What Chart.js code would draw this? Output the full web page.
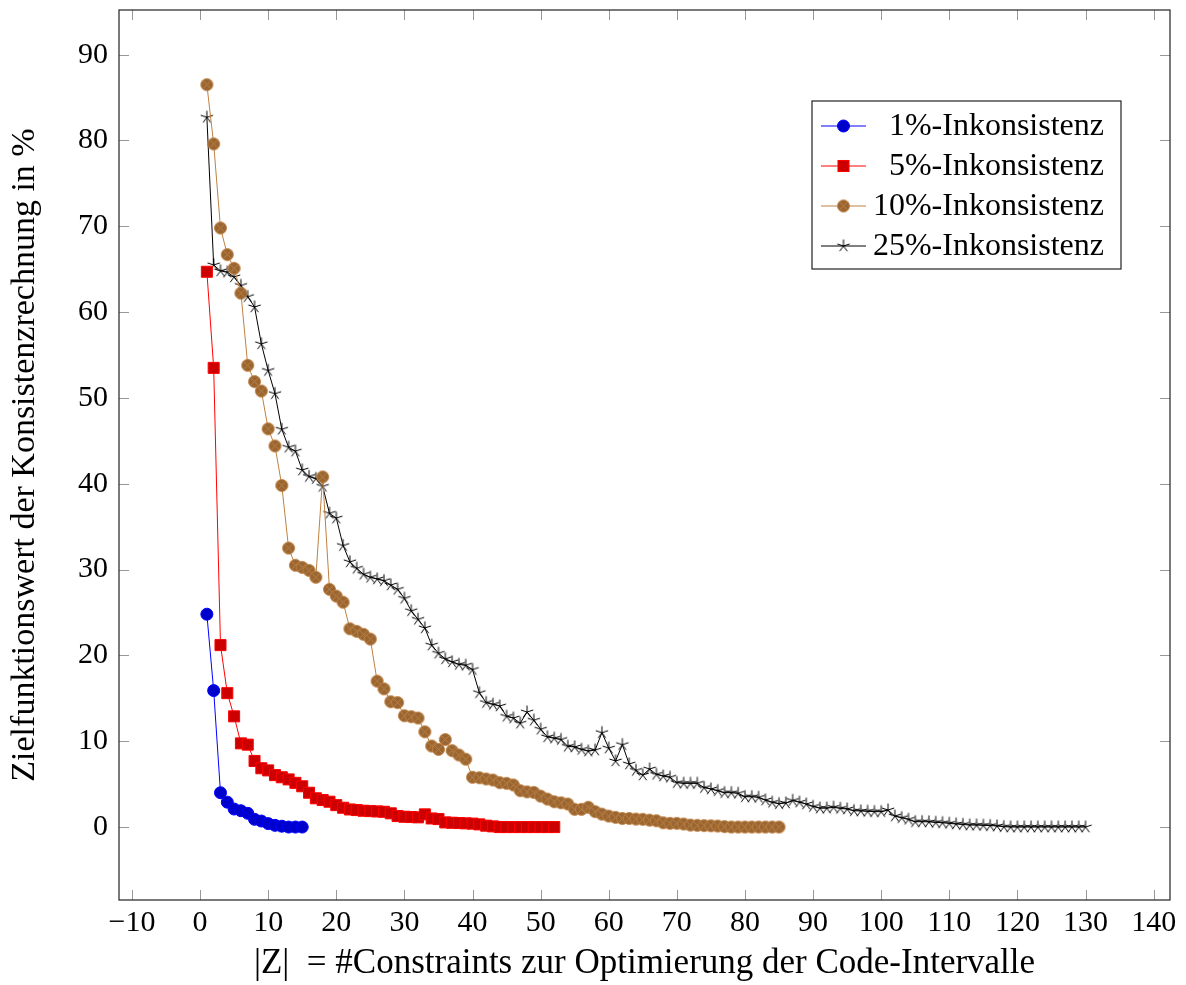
<!DOCTYPE html>
<html>
<head>
<meta charset="utf-8">
<script src="https://cdn.jsdelivr.net/npm/chart.js@4.4.0/dist/chart.umd.min.js"></script>
<style>
  html, body { margin: 0; padding: 0; background: #fff; }
</style>
</head>
<body>
<canvas id="grafico" width="1186" height="985"></canvas>
<script>
// 🔹 Dados (x = 1, 2, 3, ... em cada série)
const serie1 = [24.8, 15.9, 4.0, 2.9, 2.1, 1.9, 1.6, 0.9, 0.7, 0.4, 0.2, 0.1, 0.0, 0.0, 0.0];

const serie5 = [64.7, 53.5, 21.2, 15.6, 12.9, 9.75, 9.6, 7.7, 6.85, 6.6,
  6.05, 5.8, 5.55, 5.15, 4.75, 4.0, 3.35, 3.15, 2.95, 2.55,
  2.25, 2.05, 1.98, 1.9, 1.86, 1.82, 1.78, 1.6, 1.28, 1.2,
  1.17, 1.13, 1.48, 1.0, 0.93, 0.54, 0.5, 0.47, 0.43, 0.4,
  0.31, 0.16, 0.08, 0, 0, 0, 0, 0, 0, 0,
  0, 0];

const serie10 = [86.5, 79.6, 69.8, 66.7, 65.1, 62.2, 53.8, 51.9, 50.8, 46.4,
  44.4, 39.8, 32.5, 30.5, 30.25, 29.9, 29.1, 40.8, 27.7, 26.9,
  26.2, 23.1, 22.8, 22.45, 21.9, 17.0, 16.1, 14.6, 14.5, 12.97,
  12.86, 12.7, 11.1, 9.44, 9.05, 10.2, 8.9, 8.4, 7.9, 5.8,
  5.75, 5.6, 5.48, 5.17, 5.09, 4.9, 4.24, 4.1, 4.04, 3.6,
  3.26, 2.95, 2.83, 2.68, 2.06, 2.06, 2.3, 1.8, 1.5, 1.28,
  1.13, 1.0, 1.0, 0.93, 0.9, 0.8, 0.74, 0.5, 0.43, 0.43,
  0.35, 0.23, 0.2, 0.17, 0.15, 0.12, 0.05, 0, 0, 0,
  0, 0, 0, 0, 0];

const serie25 = [82.7, 65.5, 64.8, 64.65, 64.1, 63.1, 61.8, 60.6, 56.3, 53.2,
  50.5, 46.35, 44.25, 43.8, 41.6, 40.85, 40.6, 39.7, 36.55, 36.0,
  32.8, 30.9, 30.15, 29.45, 29.1, 28.9, 28.7, 28.2, 27.7, 26.65,
  25.2, 24.2, 23.2, 21.2, 20.25, 19.6, 19.25, 18.95, 18.85, 18.35,
  15.65, 14.5, 14.3, 14.1, 12.9, 12.7, 12.1, 13.4, 12.45, 11.4,
  10.5, 10.35, 10.2, 9.4, 9.33, 9.05, 8.85, 8.97, 11.0, 9.2,
  7.7, 9.6, 7.34, 6.6, 6.06, 6.76, 6.14, 5.94, 5.8, 5.17,
  5.09, 5.09, 5.09, 4.6, 4.43, 4.24, 4.0, 4.0, 3.93, 3.53,
  3.53, 3.46, 3.15, 2.88, 2.72, 2.8, 3.1, 2.9, 2.68, 2.4,
  2.2, 2.2, 2.3, 2.18, 2.1, 1.9, 1.87, 1.83, 1.79, 1.79,
  1.98, 1.28, 1.09, 0.9, 0.62, 0.62, 0.6, 0.54, 0.5, 0.43,
  0.35, 0.3, 0.23, 0.23, 0.2, 0.17, 0.12, 0.04, 0, 0,
  0, 0, 0, 0, 0, 0, 0, 0, 0, 0];

const legendas = ['1%-Inkonsistenz', '5%-Inkonsistenz', '10%-Inkonsistenz', '25%-Inkonsistenz'];
const ticksX = [-10, 0, 10, 20, 30, 40, 50, 60, 70, 80, 90, 100, 110, 120, 130, 140];
const ticksY = [0, 10, 20, 30, 40, 50, 60, 70, 80, 90];

const fonte = "'Liberation Serif', 'Times New Roman', serif";

function pontos(valores) {
  return valores.map((y, i) => ({ x: i + 1, y: y }));
}

// 🔹 Marcas especiais (círculo com x e estrela de 5 braços)
function marcaCruz() {
  const c = document.createElement('canvas');
  c.width = 15; c.height = 15;
  const g = c.getContext('2d');
  g.beginPath();
  g.arc(7.5, 7.5, 6, 0, Math.PI * 2);
  g.fillStyle = '#996633';
  g.fill();
  g.strokeStyle = '#bf8040';
  g.lineWidth = 1;
  g.stroke();
  const d = 6 * Math.SQRT1_2;
  g.beginPath();
  g.moveTo(7.5 - d, 7.5 - d); g.lineTo(7.5 + d, 7.5 + d);
  g.moveTo(7.5 + d, 7.5 - d); g.lineTo(7.5 - d, 7.5 + d);
  g.stroke();
  return c;
}

function marcaEstrela() {
  const c = document.createElement('canvas');
  c.width = 16; c.height = 16;
  const g = c.getContext('2d');
  g.strokeStyle = '#000';
  g.lineWidth = 1;
  g.beginPath();
  for (let k = 0; k < 5; k++) {
    const ang = -Math.PI / 2 + k * 2 * Math.PI / 5;
    g.moveTo(8, 8);
    g.lineTo(8 + 6.5 * Math.cos(ang), 8 + 6.5 * Math.sin(ang));
  }
  g.stroke();
  return c;
}

const cruz = marcaCruz();
const estrela = marcaEstrela();

// 🔹 Moldura e marcas de escala para dentro (estilo pgfplots)
const eixoPlugin = {
  id: 'eixoPgf',
  afterDatasetsDraw(chart) {
    const ctx = chart.ctx;
    const a = chart.chartArea;
    const sx = chart.scales.x, sy = chart.scales.y;
    const t = 10;
    ctx.save();
    ctx.strokeStyle = '#999';
    ctx.lineWidth = 1;
    ctx.beginPath();
    ticksX.forEach(v => {
      const px = Math.round(sx.getPixelForValue(v)) + 0.5;
      ctx.moveTo(px, a.bottom); ctx.lineTo(px, a.bottom - t);
      ctx.moveTo(px, a.top); ctx.lineTo(px, a.top + t);
    });
    ticksY.forEach(v => {
      const py = Math.round(sy.getPixelForValue(v)) + 0.5;
      ctx.moveTo(a.left, py); ctx.lineTo(a.left + t, py);
      ctx.moveTo(a.right, py); ctx.lineTo(a.right - t, py);
    });
    ctx.stroke();
    ctx.strokeStyle = '#222';
    ctx.lineWidth = 1.2;
    ctx.strokeRect(a.left, a.top, a.right - a.left, a.bottom - a.top);
    ctx.restore();
  }
};

// 🔹 Legenda desenhada à mão (texto alinhado à direita)
const legendaPlugin = {
  id: 'legendaPgf',
  afterDraw(chart) {
    const ctx = chart.ctx;
    const a = chart.chartArea;
    const left = a.right - 358, top = a.top + 91, w = 309, h = 168;
    ctx.save();
    ctx.fillStyle = '#fff';
    ctx.fillRect(left, top, w, h);
    ctx.strokeStyle = '#222';
    ctx.lineWidth = 1.2;
    ctx.strokeRect(left, top, w, h);
    chart.data.datasets.forEach((ds, i) => {
      const y = top + 25 + i * 40;
      ctx.strokeStyle = ds.borderColor;
      ctx.lineWidth = 1;
      ctx.beginPath();
      ctx.moveTo(left + 9, y); ctx.lineTo(left + 54, y);
      ctx.stroke();
      const mx = left + 31.5;
      if (ds.pointStyle === 'circle') {
        ctx.beginPath();
        ctx.arc(mx, y, ds.pointRadius, 0, Math.PI * 2);
        ctx.fillStyle = ds.pointBackgroundColor; ctx.fill();
        ctx.strokeStyle = ds.pointBorderColor; ctx.stroke();
      } else if (ds.pointStyle === 'rect') {
        const s = ds.pointRadius * Math.SQRT1_2;
        ctx.fillStyle = ds.pointBackgroundColor;
        ctx.fillRect(mx - s, y - s, 2 * s, 2 * s);
        ctx.strokeStyle = ds.pointBorderColor;
        ctx.strokeRect(mx - s, y - s, 2 * s, 2 * s);
      } else {
        const img = ds.pointStyle;
        ctx.drawImage(img, mx - img.width / 2, y - img.height / 2);
      }
      ctx.fillStyle = '#000';
      ctx.font = '32px ' + fonte;
      ctx.textAlign = 'right';
      ctx.textBaseline = 'middle';
      ctx.fillText(ds.label, left + 292, y + 1);
    });
    ctx.restore();
  }
};

function rotulo(v) {
  return v < 0 ? '\u2212' + Math.abs(v) : String(v);
}

const ctx = document.getElementById('grafico').getContext('2d');
new Chart(ctx, {
  type: 'line',
  data: {
    datasets: [
      {
        label: legendas[0], data: pontos(serie1),
        borderColor: '#0000ff', borderWidth: 1,
        pointStyle: 'circle', pointRadius: 6,
        pointBackgroundColor: '#0000cc', pointBorderColor: '#0000ff', pointBorderWidth: 1
      },
      {
        label: legendas[1], data: pontos(serie5),
        borderColor: '#ff0000', borderWidth: 1,
        pointStyle: 'rect', pointRadius: 7.8,
        pointBackgroundColor: '#cc0000', pointBorderColor: '#ff0000', pointBorderWidth: 1
      },
      {
        label: legendas[2], data: pontos(serie10),
        borderColor: '#bf8040', borderWidth: 1,
        pointStyle: cruz, pointRadius: 6
      },
      {
        label: legendas[3], data: pontos(serie25),
        borderColor: '#000000', borderWidth: 1,
        pointStyle: estrela, pointRadius: 6
      }
    ]
  },
  options: {
    responsive: false,
    animation: false,
    layout: { padding: { top: 10, right: 16, left: 0, bottom: 0 } },
    elements: { line: { tension: 0, fill: false } },
    plugins: {
      legend: { display: false },
      tooltip: { enabled: false }
    },
    scales: {
      x: {
        type: 'linear',
        min: -11.9,
        max: 142.4,
        grid: { display: false, drawTicks: false },
        border: { display: false },
        afterBuildTicks: s => { s.ticks = ticksX.map(v => ({ value: v })); },
        afterFit: s => { s.height = 85; s.paddingLeft = 0; s.paddingRight = 0; },
        ticks: {
          padding: 5, color: '#000', autoSkip: false, maxRotation: 0,
          font: { family: fonte, size: 30 },
          callback: v => rotulo(v)
        },
        title: {
          display: true,
          text: '|Z|  = #Constraints zur Optimierung der Code-Intervalle',
          color: '#000',
          font: { family: fonte, size: 35 },
          padding: { top: 0, bottom: 0 }
        }
      },
      y: {
        type: 'linear',
        min: -8.5,
        max: 95.2,
        grid: { display: false, drawTicks: false },
        border: { display: false },
        afterBuildTicks: s => { s.ticks = ticksY.map(v => ({ value: v })); },
        afterFit: s => { s.width = 119; s.paddingTop = 0; s.paddingBottom = 0; },
        ticks: {
          padding: 11, color: '#000', autoSkip: false,
          font: { family: fonte, size: 30 },
          callback: v => rotulo(v)
        },
        title: {
          display: true,
          text: 'Zielfunktionswert der Konsistenzrechnung in %',
          color: '#000',
          font: { family: fonte, size: 34 },
          padding: { top: 5, bottom: 0 }
        }
      }
    }
  },
  plugins: [eixoPlugin, legendaPlugin]
});
</script>
</body>
</html>
